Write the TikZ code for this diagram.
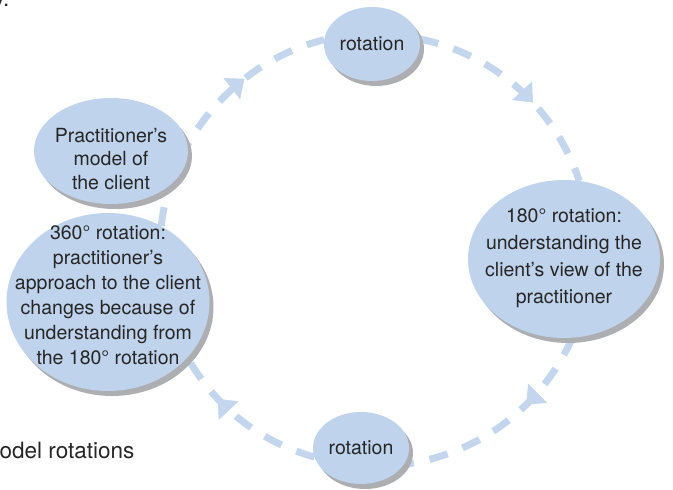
\documentclass[tikz,border=0pt]{standalone}
\usepackage{fontspec}
\setmainfont{TeX Gyre Heros}
\usetikzlibrary{shapes.geometric,shadows,arrows.meta,decorations.markings,backgrounds}
\definecolor{bubble}{HTML}{BFD3EC}
\definecolor{trail}{HTML}{C3D6EE}
\definecolor{shade}{HTML}{ADAEB2}
\definecolor{ink}{HTML}{262626}
\tikzset{
  bubble/.style={ellipse, fill=bubble, inner xsep=-45pt, inner ysep=-45pt,
    align=center, text=ink, font=\fontsize{19.5}{23.5}\selectfont,
    general shadow={fill=shade, shadow xshift=4pt, shadow yshift=-5pt}},
  words/.style={inner sep=0pt, align=center, text=ink},
  trail/.style={draw=trail, line width=7pt, dash pattern=on 19pt off 16pt,
    looseness=0.92},
  tip at/.style={postaction={decorate, decoration={markings,
    mark=at position #1 with {\arrow[trail]{Triangle[width=27pt,length=16pt,line width=0.5pt]}}}}},
  caption/.style={inner sep=0pt, text=ink, font=\fontsize{22.5}{26}\selectfont}
}
\begin{document}
\begin{tikzpicture}[x=1pt, y=1pt]
\useasboundingbox (0,0) rectangle (673,490);

% the five stages of the model
\node[bubble, minimum width=203pt, minimum height=178pt] (full) at (108,188) {};
\node[words, font=\fontsize{19.5}{25}\selectfont] (fullText) at (108,195)
  {360° rotation:\\practitioner’s\\approach to the client\\changes because of\\understanding from\\the 180° rotation};
\node[bubble, minimum width=154pt, minimum height=106pt] (prac) at (111,339) {};
\node[words, font=\fontsize{19.5}{23.5}\selectfont] (pracText) at (111,331)
  {Practitioner’s\\model of\\the client};
\node[bubble, minimum width=96pt, minimum height=74pt] (top) at (372,446) {rotation};
\node[bubble, minimum width=192pt, minimum height=158pt] (view) at (564,231) {};
\node[words, font=\fontsize{19.5}{27}\selectfont] (viewText) at (564,232)
  {180° rotation:\\understanding the\\client’s view of the\\practitioner};
\node[bubble, minimum width=96pt, minimum height=72pt] (bot) at (361,42) {rotation};

% dashed ring of arrows behind the bubbles
\begin{scope}[on background layer]
  \draw[trail, tip at=0.66] (full.55) to[bend left=35] (top.175);
  \draw[trail, tip at=0.59] (top.6) to[bend left=30] (view.79);
  \draw[trail, tip at=0.37] (view.276) to[bend left=29] (bot.339);
  \draw[trail, tip at=0.69] (bot.191) to[bend left=22] (full.325);
\end{scope}

% running text at the page edges
\node[caption, anchor=base west] (cap) at (-0.5,31) {odel rotations};
\node[caption, anchor=base east] (cut) at (9.5,483.5) {y.};
\end{tikzpicture}
\end{document}
